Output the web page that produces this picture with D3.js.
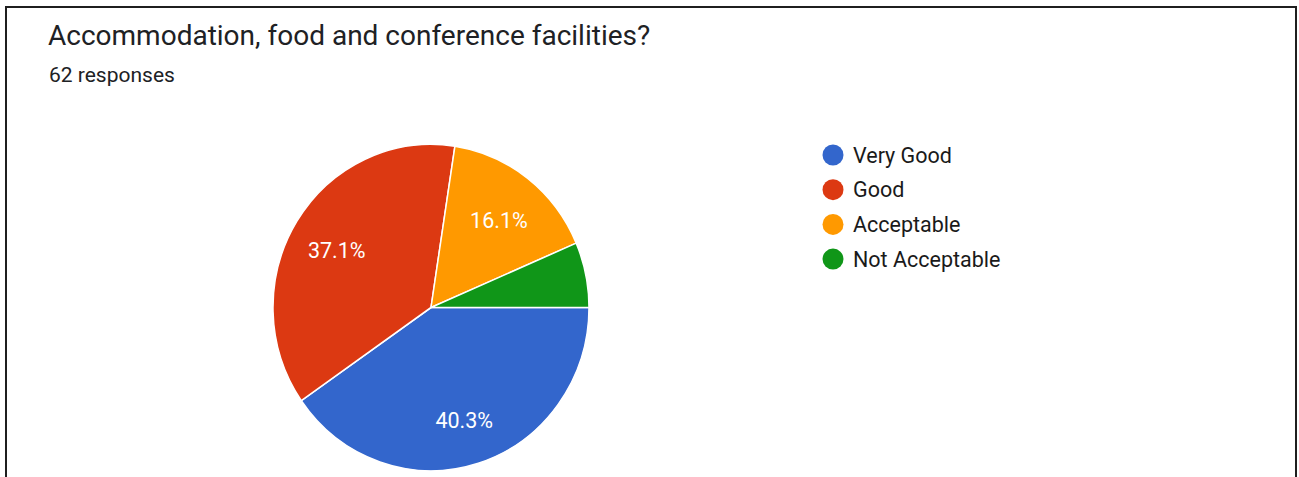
<!DOCTYPE html>
<html>
<head>
<meta charset="utf-8">
<script src="https://cdn.jsdelivr.net/npm/d3@7"></script>
<style>
  html, body { margin: 0; padding: 0; background: #fff; }
  svg { display: block; }
  text { font-family: Roboto, "Liberation Sans", Arial, sans-serif; }
</style>
</head>
<body>
<svg id="chart" width="1299" height="477"></svg>
<script>
// Survey question and answers
const title = "Accommodation, food and conference facilities?";
const subtitle = "62 responses";
const categories = ["Very Good", "Good", "Acceptable", "Not Acceptable"];
const counts = [25, 23, 10, 4];
const colors = ["#3366cc", "#dc3912", "#ff9900", "#109618"];

const width = 1299, height = 477;
const svg = d3.select("#chart");

// card frame
svg.append("rect")
  .attr("x", 6).attr("y", 7)
  .attr("width", width - 9).attr("height", height + 10)
  .attr("fill", "#fff")
  .attr("stroke", "#1f1f1f")
  .attr("stroke-width", 2);

svg.append("text")
  .attr("x", 48).attr("y", 45)
  .attr("font-size", 28)
  .attr("fill", "#202124")
  .text(title);

svg.append("text")
  .attr("x", 49).attr("y", 82)
  .attr("font-size", 21)
  .attr("fill", "#202124")
  .text(subtitle);

// pie
const cx = 431, cy = 307.5, R = 158, yStretch = 1.033;
const total = d3.sum(counts);
const data = categories.map((c, i) => ({ name: c, value: counts[i], color: colors[i] }));

const pie = d3.pie()
  .value(d => d.value)
  .sort(null)
  .startAngle(Math.PI / 2)
  .endAngle(Math.PI / 2 + 2 * Math.PI);

const arcs = pie(data);
const arc = d3.arc().innerRadius(0).outerRadius(R);
const labelArc = d3.arc().innerRadius(111).outerRadius(111);

const g = svg.append("g")
  .attr("transform", `translate(${cx},${cy}) scale(1,${yStretch})`);

g.selectAll("path")
  .data(arcs)
  .join("path")
  .attr("d", arc)
  .attr("fill", d => d.data.color)
  .attr("stroke", "#fff")
  .attr("stroke-width", 1.5)
  .attr("stroke-linejoin", "round");

const fmt = v => (v / total * 100).toFixed(1) + "%";

svg.append("g")
  .selectAll("text")
  .data(arcs.filter(d => d.data.value / total > 0.1))
  .join("text")
  .attr("x", d => cx + labelArc.centroid(d)[0])
  .attr("y", d => cy + labelArc.centroid(d)[1] * yStretch)
  .attr("dy", "0.5em")
  .attr("text-anchor", "middle")
  .attr("font-size", 21.5)
  .attr("fill", "#fff")
  .text(d => fmt(d.data.value));

// legend
const legend = svg.append("g").attr("transform", "translate(833,155)");
const rowH = 34.7;
const item = legend.selectAll("g")
  .data(data)
  .join("g")
  .attr("transform", (d, i) => `translate(0,${i * rowH})`);

item.append("ellipse")
  .attr("rx", 10.5).attr("ry", 10.5)
  .attr("fill", d => d.color);

item.append("text")
  .attr("x", 20)
  .attr("dy", "0.36em")
  .attr("font-size", 21.5)
  .attr("fill", "#1a1a1a")
  .text(d => d.name);
</script>
</body>
</html>
